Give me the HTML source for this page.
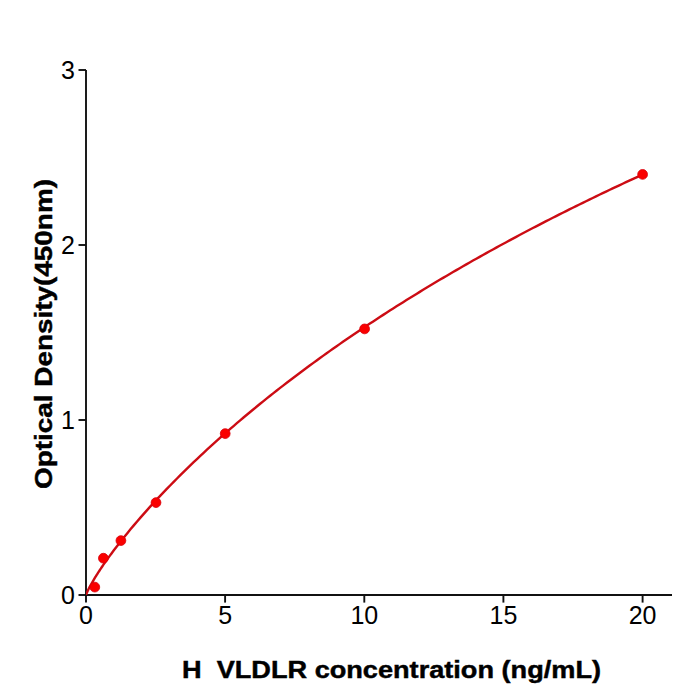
<!DOCTYPE html>
<html><head><meta charset="utf-8"><style>
html,body{margin:0;padding:0;background:#fff;width:700px;height:700px;overflow:hidden}
svg{display:block}
text{font-family:"Liberation Sans",sans-serif;fill:#000}
</style></head><body>
<svg width="700" height="700" viewBox="0 0 700 700">
<defs><clipPath id="c"><rect x="86" y="0" width="600" height="595"/></clipPath></defs>
<g stroke="#111" stroke-width="1.9" fill="none">
<line x1="86" y1="70" x2="86" y2="596"/>
<line x1="85" y1="595" x2="672" y2="595"/>
<line x1="78.5" y1="70" x2="86" y2="70"/>
<line x1="78.5" y1="245" x2="86" y2="245"/>
<line x1="78.5" y1="420" x2="86" y2="420"/>
<line x1="78.5" y1="595" x2="86" y2="595"/>
<line x1="86" y1="595" x2="86" y2="602.6"/>
<line x1="225.1" y1="595" x2="225.1" y2="602.6"/>
<line x1="364.3" y1="595" x2="364.3" y2="602.6"/>
<line x1="503.4" y1="595" x2="503.4" y2="602.6"/>
<line x1="642.6" y1="595" x2="642.6" y2="602.6"/>
</g>
<g font-size="25" text-anchor="end">
<text x="75" y="78.5">3</text>
<text x="75" y="253.5">2</text>
<text x="75" y="428.5">1</text>
<text x="75" y="603.5">0</text>
</g>
<g font-size="25" text-anchor="middle">
<text x="86" y="623.5">0</text>
<text x="225.1" y="623.5">5</text>
<text x="364.3" y="623.5">10</text>
<text x="503.4" y="623.5">15</text>
<text x="642.6" y="623.5">20</text>
</g>
<text x="182" y="677.5" font-size="24.2" font-weight="bold" stroke="#000" stroke-width="0.45" textLength="419" lengthAdjust="spacingAndGlyphs" xml:space="preserve">H  VLDLR concentration (ng/mL)</text>
<text transform="translate(51.8,489) rotate(-90)" x="0" y="0" font-size="24.2" font-weight="bold" stroke="#000" stroke-width="0.45" textLength="310" lengthAdjust="spacingAndGlyphs">Optical Density(450nm)</text>
<polyline clip-path="url(#c)" points="86.00,595.15 86.71,593.11 87.43,591.47 88.14,589.96 88.85,588.53 89.57,587.15 90.28,585.82 91.00,584.52 91.71,583.25 92.42,582.00 93.14,580.78 93.85,579.58 94.56,578.39 95.28,577.23 95.99,576.08 96.70,574.94 97.42,573.81 98.13,572.70 98.84,571.60 99.56,570.51 100.27,569.42 100.99,568.35 101.70,567.29 102.41,566.24 103.13,565.19 103.84,564.16 104.55,563.13 105.27,562.10 105.98,561.09 106.69,560.08 107.41,559.08 108.12,558.08 108.83,557.09 109.55,556.11 110.26,555.13 110.98,554.16 111.69,553.19 112.40,552.23 113.12,551.28 113.83,550.33 113.83,550.33 117.16,545.96 120.48,541.68 123.81,537.49 127.13,533.38 130.46,529.35 133.78,525.38 137.11,521.47 140.43,517.63 143.76,513.84 147.09,510.10 150.41,506.41 153.74,502.77 157.06,499.18 160.39,495.63 163.71,492.12 167.04,488.66 170.37,485.23 173.69,481.84 177.02,478.48 180.34,475.16 183.67,471.87 186.99,468.62 190.32,465.40 193.64,462.20 196.97,459.04 200.30,455.91 203.62,452.81 206.95,449.73 210.27,446.68 213.60,443.66 216.92,440.66 220.25,437.69 223.57,434.74 226.90,431.81 230.23,428.91 233.55,426.04 236.88,423.18 240.20,420.35 243.53,417.54 246.85,414.75 250.18,411.98 253.51,409.23 256.83,406.50 260.16,403.79 263.48,401.10 266.81,398.42 270.13,395.77 273.46,393.14 276.78,390.52 280.11,387.92 283.44,385.34 286.76,382.78 290.09,380.23 293.41,377.70 296.74,375.18 300.06,372.68 303.39,370.20 306.71,367.74 310.04,365.28 313.37,362.85 316.69,360.43 320.02,358.02 323.34,355.63 326.67,353.25 329.99,350.89 333.32,348.54 336.65,346.20 339.97,343.88 343.30,341.57 346.62,339.28 349.95,337.00 353.27,334.73 356.60,332.47 359.92,330.23 363.25,328.00 366.58,325.78 369.90,323.57 373.23,321.38 376.55,319.20 379.88,317.03 383.20,314.87 386.53,312.72 389.85,310.59 393.18,308.46 396.51,306.35 399.83,304.25 403.16,302.16 406.48,300.08 409.81,298.01 413.13,295.95 416.46,293.90 419.78,291.86 423.11,289.83 426.44,287.81 429.76,285.80 433.09,283.81 436.41,281.82 439.74,279.84 443.06,277.87 446.39,275.91 449.72,273.96 453.04,272.02 456.37,270.09 459.69,268.17 463.02,266.26 466.34,264.35 469.67,262.46 472.99,260.57 476.32,258.70 479.65,256.83 482.97,254.97 486.30,253.12 489.62,251.27 492.95,249.44 496.27,247.61 499.60,245.79 502.92,243.99 506.25,242.18 509.58,240.39 512.90,238.60 516.23,236.83 519.55,235.06 522.88,233.30 526.20,231.54 529.53,229.79 532.86,228.05 536.18,226.32 539.51,224.60 542.83,222.88 546.16,221.17 549.48,219.47 552.81,217.78 556.13,216.09 559.46,214.41 562.79,212.73 566.11,211.07 569.44,209.41 572.76,207.75 576.09,206.11 579.41,204.47 582.74,202.84 586.06,201.21 589.39,199.59 592.72,197.98 596.04,196.37 599.37,194.77 602.69,193.18 606.02,191.59 609.34,190.01 612.67,188.44 616.00,186.87 619.32,185.31 622.65,183.75 625.97,182.20 629.30,180.66 632.62,179.12 635.95,177.59 639.27,176.06 642.60,174.54" fill="none" stroke="#cc0c14" stroke-width="2.4"/>
<g fill="#fa0000" stroke="#d8000a" stroke-width="0.8">
<circle cx="94.8" cy="587.1" r="4.9"/>
<circle cx="103.4" cy="558.2" r="4.9"/>
<circle cx="120.9" cy="540.6" r="4.9"/>
<circle cx="156" cy="502.6" r="4.9"/>
<circle cx="225.2" cy="433.6" r="4.9"/>
<circle cx="364.6" cy="328.9" r="4.9"/>
<circle cx="642.6" cy="174.4" r="4.9"/>
</g>
</svg>
</body></html>
